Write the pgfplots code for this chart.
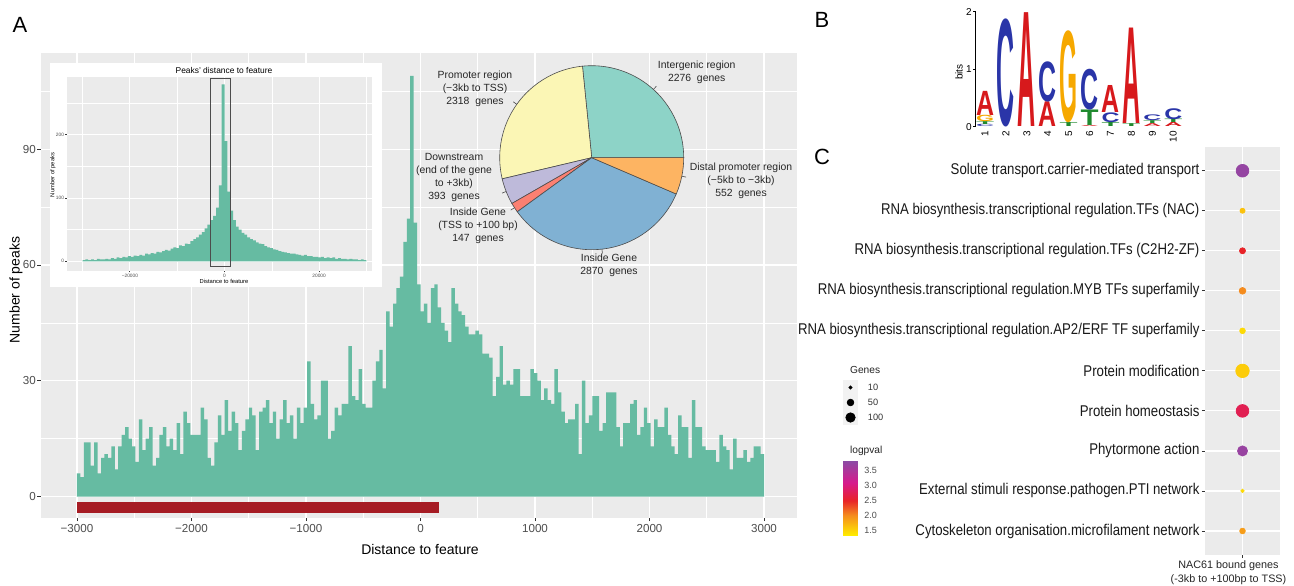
\documentclass[border=0pt]{standalone}
\usepackage{fontspec}
\setmainfont{Liberation Sans}
\newfontfamily\logofont{Liberation Sans}
\usepackage{graphicx}
\usepackage{pgfplots}
\pgfplotsset{compat=1.18}
\usepackage{pgfplotstable}

\definecolor{ggbg}{HTML}{EBEBEB}
\definecolor{ggtxt}{HTML}{4D4D4D}
\definecolor{ggtick}{HTML}{333333}
\definecolor{barc}{RGB}{102,187,162}
\definecolor{redbar}{HTML}{A61C24}
\definecolor{pieTeal}{HTML}{8DD3C7}
\definecolor{pieYellow}{HTML}{FBF6B5}
\definecolor{pieLav}{HTML}{BEBADA}
\definecolor{pieRed}{HTML}{FB8072}
\definecolor{pieBlue}{HTML}{80B1D3}
\definecolor{pieOrange}{HTML}{FDB462}
\definecolor{lA}{HTML}{D7191C}
\definecolor{lC}{HTML}{2A35A8}
\definecolor{lG}{HTML}{F6A800}
\definecolor{lT}{HTML}{1F8A2E}

\newdimen\logoh \logoh=28.75pt

\pgfplotsset{
  gg/.style={
    scale only axis,
    axis background/.style={fill=ggbg},
    axis line style={draw=none},
    grid=both,
    major grid style={white, line width=0.6pt},
    minor grid style={white, line width=0.3pt},
    tick align=outside,
    major tick length=1.6pt,
    minor tick length=0pt,
    tick style={ggtick, line width=0.4pt},
    xtick pos=bottom, ytick pos=left,
    ticklabel style={text=ggtxt},
    scaled ticks=false,
    /pgf/number format/assume math mode=true,
  },
  colormap={logp}{rgb255(1.33cm)=(255,235,0) rgb255(2cm)=(245,140,30)
    rgb255(2.5cm)=(232,35,40) rgb255(3.1cm)=(215,25,140) rgb255(3.84cm)=(140,75,165)},
}

% peaks per 30 bp bin, -3000 .. +3000
\pgfplotstableread[row sep=\\]{
n\\6\\5\\14\\14\\8\\14\\6\\10\\11\\10\\13\\7\\13\\16\\18\\15\\13\\9\\20\\12\\15\\18\\8\\10\\16\\18\\13\\15\\12\\19\\11\\22\\19\\16\\16\\16\\23\\20\\10\\
8\\14\\21\\16\\25\\17\\22\\19\\12\\17\\20\\23\\21\\12\\22\\23\\25\\19\\22\\15\\20\\25\\19\\21\\15\\23\\19\\23\\35\\24\\20\\21\\30\\30\\15\\17\\23\\21\\24\\24\\
39\\26\\25\\33\\24\\23\\23\\30\\35\\38\\28\\48\\44\\50\\54\\57\\66\\72\\109\\71\\55\\48\\50\\45\\54\\55\\49\\45\\43\\40\\54\\50\\48\\47\\44\\42\\42\\43\\42\\
37\\37\\36\\26\\31\\39\\29\\30\\29\\33\\33\\26\\26\\26\\33\\32\\30\\25\\28\\25\\24\\33\\27\\22\\19\\20\\20\\24\\11\\30\\19\\21\\26\\26\\17\\19\\27\\27\\27\\
18\\13\\19\\19\\24\\25\\16\\18\\23\\19\\13\\20\\18\\18\\23\\16\\13\\11\\21\\18\\18\\10\\25\\18\\18\\13\\12\\12\\12\\9\\16\\13\\12\\7\\15\\10\\10\\12\\9\\10\\13\\13\\11\\
}\peaks

% inset: 600 bp bins, -30000 .. +30000
\pgfplotstableread[row sep=\\]{
n\\2\\3\\2\\3\\2\\4\\3\\3\\4\\3\\5\\4\\6\\5\\7\\6\\8\\7\\9\\8\\
10\\9\\12\\11\\13\\12\\15\\14\\16\\18\\17\\20\\22\\21\\25\\24\\28\\27\\32\\35\\
38\\42\\46\\52\\58\\65\\72\\85\\120\\280\\190\\110\\80\\65\\55\\50\\45\\42\\38\\35\\
33\\30\\28\\27\\24\\22\\21\\19\\18\\16\\15\\14\\13\\12\\12\\11\\10\\9\\10\\8\\
8\\7\\7\\6\\7\\5\\6\\5\\6\\4\\5\\4\\4\\3\\4\\3\\3\\2\\3\\2\\
}\insetpeaks

\pgfplotstableread{
y genes logp
1 36 1.88
2 13 1.45
3 115 3.72
4 182 2.75
5 206 1.55
6 36 1.45
7 50 2.0
8 41 2.5
9 29 1.62
10 182 3.75
}\goTab

\pgfplotstableread{
y genes
3 10
2 50
1 100
}\genesKey

\newcommand{\slice}[3]{%
  \filldraw[fill=#3, draw=black!70, line width=0.3pt] (axis cs:0,0) -- ++(#1:46pt)
    arc[start angle=#1, end angle=#2, radius=46pt] -- cycle;
  \draw[black!70, line width=0.3pt] (axis cs:0,0) ++({(#1+#2)/2}:46pt) -- ++({(#1+#2)/2}:2.2pt);}

\newcommand{\lt}[5]{\node[anchor=south, inner sep=0pt, outer sep=0pt, text=#5]
  at (axis cs:#1,#2) {\resizebox*{9pt}{#3\logoh}{\logofont\bfseries #4}};}

\begin{document}
\begin{tikzpicture}
\useasboundingbox[fill=white] (0,0) rectangle (647pt,292.5pt);

% ---------------- panel A: histogram
\begin{axis}[gg, at={(20.35pt,33.5pt)}, anchor=south west,
  width=378.15pt, height=232.65pt,
  xmin=-3317, xmax=3288, ymin=-5.57, ymax=115,
  xtick={-3000,-2000,...,3000},
  xticklabels={−3000,−2000,−1000,0,1000,2000,3000},
  minor xtick={-2500,-1500,...,2500},
  ytick={0,30,60,90}, minor ytick={15,45,75,105},
  tick label style={font=\fontsize{5.8}{7}\selectfont},
  yticklabel style={inner xsep=0.6pt},
  xticklabel style={inner ysep=1.2pt},
]
\addplot[ybar, bar width=30, fill=barc, draw=none]
  table[x expr=\coordindex*30-2985, y=n] {\peaks};
\addplot[fill=redbar, draw=none]
  coordinates {(-3000,-1.4) (160,-1.4) (160,-4.2) (-3000,-4.2)};
\end{axis}
\node[font=\fontsize{7}{8}\selectfont] at (210pt,18pt) {Distance to feature};
\node[font=\fontsize{7}{8}\selectfont, rotate=90] at (8pt,147.5pt) {Number of peaks};
\node[font=\fontsize{11}{12}\selectfont] at (10pt,280pt) {A};

% inset
\fill[white] (25pt,149.15pt) rectangle (191pt,260.85pt);
\begin{axis}[gg, at={(33.5pt,157.15pt)}, anchor=south west,
  width=152.5pt, height=97pt,
  xmin=-33290, xmax=31170, ymin=-14.9, ymax=292,
  xtick={-20000,0,20000}, xticklabels={−20000,0,20000},
  minor xtick={-30000,-10000,10000,30000},
  ytick={0,100,200}, minor ytick={50,150,250},
  major tick length=0.8pt,
  major grid style={white, line width=0.4pt},
  minor grid style={white, line width=0.2pt},
  tick label style={font=\fontsize{2.4}{3}\selectfont, inner sep=0.5pt},
]
\addplot[ybar, bar width=600, fill=barc, draw=none]
  table[x expr=\coordindex*600-29700, y=n] {\insetpeaks};
\draw[black!70, line width=0.45pt] (axis cs:-3000,-8.5) rectangle (axis cs:1300,289.7);
\end{axis}
\node[font=\fontsize{4.2}{5}\selectfont] at (112pt,257.3pt) {Peaks' distance to feature};
\node[font=\fontsize{2.9}{3.5}\selectfont] at (112pt,152pt) {Distance to feature};
\node[font=\fontsize{2.9}{3.5}\selectfont, rotate=90] at (26.5pt,205pt) {Number of peaks};

% pie
\pgfmathsetmacro{\tot}{2276+2318+393+147+2870+552}
\pgfmathsetmacro{\pa}{2276/\tot*360}
\pgfmathsetmacro{\pb}{\pa+2318/\tot*360}
\pgfmathsetmacro{\pc}{\pb+393/\tot*360}
\pgfmathsetmacro{\pd}{\pc+147/\tot*360}
\pgfmathsetmacro{\pe}{\pd+2870/\tot*360}
\begin{axis}[hide axis, x=1pt, y=1pt, xmin=-50, xmax=50, ymin=-50, ymax=50,
  at={(245.85pt,163.65pt)}, anchor=south west, clip=false]
\slice{0}{\pa}{pieTeal}
\slice{\pa}{\pb}{pieYellow}
\slice{\pb}{\pc}{pieLav}
\slice{\pc}{\pd}{pieRed}
\slice{\pd}{\pe}{pieBlue}
\slice{\pe}{360}{pieOrange}
\end{axis}
\begin{scope}[every node/.style={font=\fontsize{5.2}{6.5}\selectfont, align=center, text=black!85}]
\node at (348.35pt,256.5pt) {Intergenic region\\2276~~genes};
\node at (237.5pt,248.25pt) {Promoter region\\(−3kb to TSS)\\2318~~genes};
\node at (227pt,203.75pt) {Downstream\\(end of the gene\\to +3kb)\\393~~genes};
\node at (239pt,179.75pt) {Inside Gene\\(TSS to +100 bp)\\147~~genes};
\node at (304.5pt,159.85pt) {Inside Gene\\2870~~genes};
\node at (370.5pt,202pt) {Distal promoter region\\(−5kb to −3kb)\\552~~genes};
\end{scope}

% ---------------- panel B: sequence logo
\node[font=\fontsize{11}{12}\selectfont] at (411pt,282.5pt) {B};
\begin{axis}[scale only axis, at={(487.8pt,229.15pt)}, anchor=south west,
  width=105.1pt, height=57.5pt,
  xmin=0.55, xmax=10.6, ymin=0, ymax=2, clip=false,
  axis lines=left, axis line style={-, black, line width=0.5pt},
  x axis line style={draw=none},
  xtick={1,...,10}, xtick style={draw=none},
  ytick={0,1,2}, ytick style={black, line width=0.4pt},
  tick align=outside, major tick length=1.3pt,
  tick label style={font=\fontsize{5}{6}\selectfont},
  yticklabel style={inner xsep=0.5pt},
  xticklabel style={rotate=90, anchor=east, inner xsep=0.8pt},
  /pgf/number format/assume math mode=true,
]
\lt{1}{0}{0.04}{C}{lC}\lt{1}{0.04}{0.05}{T}{lT}\lt{1}{0.09}{0.11}{G}{lG}\lt{1}{0.20}{0.42}{A}{lA}
\lt{2}{0}{1.88}{C}{lC}
\lt{3}{0}{1.98}{A}{lA}
\lt{4}{0}{0.43}{A}{lA}\lt{4}{0.43}{0.70}{C}{lC}
\lt{5}{0}{0.07}{T}{lT}\lt{5}{0.07}{1.60}{G}{lG}
\lt{6}{0}{0.02}{A}{lA}\lt{6}{0.02}{0.27}{T}{lT}\lt{6}{0.29}{0.71}{C}{lC}
\lt{7}{0}{0.07}{T}{lT}\lt{7}{0.07}{0.17}{C}{lC}\lt{7}{0.24}{0.47}{A}{lA}
\lt{8}{0}{0.05}{T}{lT}\lt{8}{0.05}{1.66}{A}{lA}
\lt{9}{0}{0.05}{A}{lA}\lt{9}{0.05}{0.05}{T}{lT}\lt{9}{0.10}{0.10}{C}{lC}
\lt{10}{0}{0.07}{A}{lA}\lt{10}{0.07}{0.06}{T}{lT}\lt{10}{0.13}{0.19}{C}{lC}
\end{axis}
\node[font=\fontsize{5}{6}\selectfont, rotate=90] at (479.5pt,256.5pt) {bits};

% ---------------- panel C: dot plot
\node[font=\fontsize{11}{12}\selectfont] at (411pt,214pt) {C};
\begin{axis}[gg, at={(602.5pt,15pt)}, anchor=south west,
  width=37.5pt, height=204.15pt,
  xmin=0.4, xmax=1.6, ymin=0.4, ymax=10.6, grid=major,
  xtick={1}, xticklabels={{NAC61 bound genes\\(-3kb to +100bp to TSS)}},
  ytick={1,...,10},
  yticklabels={Cytoskeleton organisation.microfilament network,
    External stimuli response.pathogen.PTI network,
    Phytormone action, Protein homeostasis, Protein modification,
    RNA biosynthesis.transcriptional regulation.AP2/ERF TF superfamily,
    RNA biosynthesis.transcriptional regulation.MYB TFs superfamily,
    RNA biosynthesis.transcriptional regulation.TFs (C2H2-ZF),
    RNA biosynthesis.transcriptional regulation.TFs (NAC),
    Solute transport.carrier-mediated transport},
  xticklabel style={align=center, font=\fontsize{5.4}{6.9}\selectfont, text=black!85,
    xshift=-7pt, inner ysep=1pt},
  yticklabel style={font=\fontsize{6.6}{8}\selectfont, text=black!90, inner xsep=1pt,
    yscale=1.18},
  colormap name=logp, point meta min=1.33, point meta max=3.84,
]
\addplot[scatter, only marks, mark=*, scatter src=explicit,
  scatter/use mapped color={draw=mapped color, fill=mapped color},
  visualization depends on={sqrt(\thisrow{genes})*0.2335 \as \msz},
  scatter/@pre marker code/.append style={/tikz/mark size=\msz pt}]
  table[x expr=1, y=y, meta=logp] {\goTab};
\end{axis}

% size legend
\node[anchor=west, font=\fontsize{5.1}{6}\selectfont, text=black!85] at (421.5pt,107.5pt) {Genes};
\begin{axis}[scale only axis, hide axis, at={(421.35pt,80pt)}, anchor=south west,
  width=7.8pt, height=22.5pt, xmin=-0.5, xmax=0.5, ymin=0.5, ymax=3.5, clip=false]
\fill[black!5] (axis cs:-0.5,0.5) rectangle (axis cs:0.5,3.5);
\addplot[scatter, only marks, mark=*, point meta=y,
  scatter/use mapped color={draw=black, fill=black},
  visualization depends on={sqrt(\thisrow{genes})*0.2335 \as \msz},
  scatter/@pre marker code/.append style={/tikz/mark size=\msz pt}]
  table[x expr=0, y=y] {\genesKey};
\node[anchor=west, font=\fontsize{4.6}{5}\selectfont, text=black!80] at (axis cs:0.5,3) {~10};
\node[anchor=west, font=\fontsize{4.6}{5}\selectfont, text=black!80] at (axis cs:0.5,2) {~50};
\node[anchor=west, font=\fontsize{4.6}{5}\selectfont, text=black!80] at (axis cs:0.5,1) {~100};
\end{axis}

% colour bar
\node[anchor=west, font=\fontsize{5.1}{6}\selectfont, text=black!85] at (421.5pt,67pt) {logpval};
\begin{axis}[scale only axis, at={(421.35pt,25pt)}, anchor=south west,
  width=7.3pt, height=37.15pt,
  xmin=0, xmax=1, ymin=1.33, ymax=3.84,
  axis line style={draw=none}, xtick=\empty,
  ytick={1.5,2.0,2.5,3.0,3.5}, yticklabel pos=right, major tick length=0pt,
  yticklabel style={font=\fontsize{4.5}{5}\selectfont, text=ggtxt,
    /pgf/number format/.cd, fixed, fixed zerofill, precision=1},
  /pgf/number format/assume math mode=true,
  colormap name=logp, point meta min=1.33, point meta max=3.84,
]
\addplot[surf, shader=interp, mesh/rows=2, point meta=y]
  coordinates {(0,1.33) (1,1.33) (0,3.84) (1,3.84)};
\end{axis}
\end{tikzpicture}
\end{document}
